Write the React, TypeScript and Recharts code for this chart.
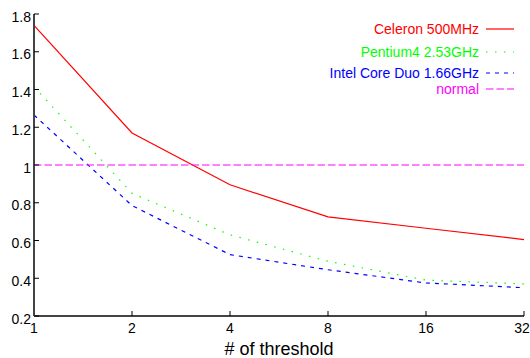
import { LineChart, Line, XAxis, YAxis } from 'recharts'

// # of threshold (log2 steps, drawn evenly spaced)
const THRESHOLDS = ['1', '2', '4', '8', '16', '32']

// relative time per machine
const CELERON = [1.74, 1.17, 0.895, 0.725, 0.665, 0.605]
const PENTIUM4 = [1.415, 0.85, 0.63, 0.49, 0.39, 0.37]
const CORE_DUO = [1.265, 0.785, 0.525, 0.445, 0.375, 0.35]
const NORMAL = [1, 1, 1, 1, 1, 1]

const Y_TICKS = [0.2, 0.4, 0.6, 0.8, 1, 1.2, 1.4, 1.6, 1.8]

const SERIES = [
  { key: 'celeron', name: 'Celeron 500MHz', color: '#ff0000', dash: undefined as string | undefined, values: CELERON },
  { key: 'pentium4', name: 'Pentium4 2.53GHz', color: '#00ff00', dash: '1.5 7.5', values: PENTIUM4 },
  { key: 'coreDuo', name: 'Intel Core Duo 1.66GHz', color: '#0000ff', dash: '4 5', values: CORE_DUO },
  { key: 'normal', name: 'normal', color: '#ff00ff', dash: '7.5 3', values: NORMAL },
]

const data = THRESHOLDS.map((x, i) => {
  const row: Record<string, string | number> = { x }
  SERIES.forEach((s) => { row[s.key] = s.values[i] })
  return row
})

const FONT = '"Liberation Sans", Arial, Helvetica, sans-serif'
const LEGEND_ROWS = [29, 52, 73, 89]

const XTick = (props: any) => (
  <text x={props.x} y={props.y} dy="0.36em" textAnchor="middle" fontSize={14} fill="#000" fontFamily={FONT}>
    {props.payload.value}
  </text>
)

const YTick = (props: any) => (
  <text x={props.x} y={props.y} dy="0.55em" textAnchor="end" fontSize={14} fill="#000" fontFamily={FONT}>
    {String(props.payload.value)}
  </text>
)

export default function App() {
  return (
    <div style={{ position: 'relative', width: 530, height: 358, fontFamily: FONT, background: '#fff' }}>
      <style>{'body{margin:0}'}</style>
      <LineChart width={530} height={358} data={data} margin={{ top: 14, right: 6, bottom: 0, left: 0 }}>
        <XAxis
          dataKey="x"
          type="category"
          height={42}
          tickSize={-5}
          tickMargin={17}
          tick={<XTick />}
          axisLine={{ stroke: '#444', strokeWidth: 2 }}
          tickLine={{ stroke: '#000' }}
          label={{ value: '# of threshold', position: 'insideBottom', offset: 3, fontSize: 18, fill: '#000', fontFamily: FONT }}
        />
        <XAxis
          xAxisId="top"
          dataKey="x"
          type="category"
          orientation="top"
          height={0}
          tickSize={-5}
          tick={false}
          axisLine={{ stroke: '#000' }}
          tickLine={{ stroke: '#000' }}
        />
        <YAxis
          type="number"
          domain={[0.2, 1.8]}
          ticks={Y_TICKS}
          width={34}
          tickSize={-5}
          tickMargin={8}
          tick={<YTick />}
          axisLine={{ stroke: '#444', strokeWidth: 2 }}
          tickLine={{ stroke: '#000' }}
        />
        <YAxis
          yAxisId="right"
          orientation="right"
          type="number"
          domain={[0.2, 1.8]}
          ticks={Y_TICKS}
          width={0}
          tickSize={-5}
          tick={false}
          axisLine={{ stroke: '#000' }}
          tickLine={{ stroke: '#000' }}
        />
        {SERIES.map((s) => (
          <Line
            key={s.key}
            dataKey={s.key}
            name={s.name}
            type="linear"
            stroke={s.color}
            strokeWidth={1.2}
            strokeDasharray={s.dash}
            dot={false}
            activeDot={false}
            isAnimationActive={false}
            xAxisId={s.key === 'normal' ? 'top' : 0}
            yAxisId={s.key === 'normal' ? 'right' : 0}
          />
        ))}
      </LineChart>
      <svg width={530} height={358} style={{ position: 'absolute', left: 0, top: 0, pointerEvents: 'none' }}>
        {SERIES.map((s, i) => (
          <g key={s.key}>
            <text x={479} y={LEGEND_ROWS[i]} dy="0.36em" textAnchor="end" fontSize={14} fill={s.color} fontFamily={FONT}>
              {s.name}
            </text>
            <line x1={486} x2={514} y1={LEGEND_ROWS[i]} y2={LEGEND_ROWS[i]} stroke={s.color} strokeWidth={1.2} strokeDasharray={s.dash} />
          </g>
        ))}
      </svg>
    </div>
  )
}
